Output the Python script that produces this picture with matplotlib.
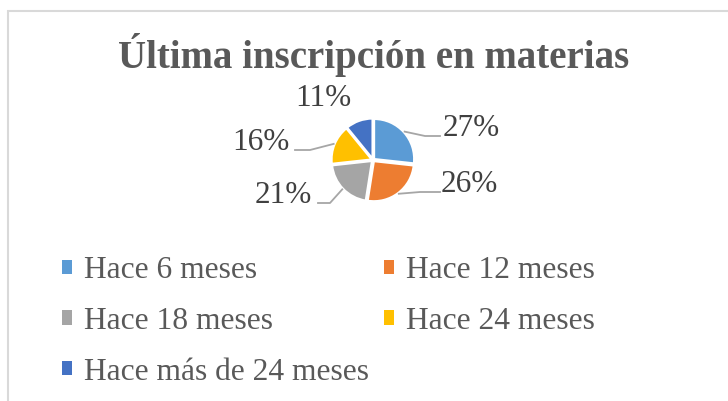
import numpy as np
import matplotlib.pyplot as plt
from matplotlib.patches import Patch

# datos
categorias = ['Hace 6 meses', 'Hace 12 meses', 'Hace 18 meses',
              'Hace 24 meses', 'Hace más de 24 meses']
porcentajes = [27, 26, 21, 16, 11]
colores = ['#5B9BD5', '#ED7D31', '#A5A5A5', '#FFC000', '#4472C4']
titulo = 'Última inscripción en materias'

W, H = 728, 401
plt.rcParams['font.family'] = ['Liberation Serif', 'DejaVu Serif']

fig = plt.figure(figsize=(W / 100, H / 100), dpi=100)
ax = fig.add_axes([0, 0, 1, 1])


def Y(y):
    # coordenadas de imagen -> datos (y hacia arriba)
    return H - y


cx, cy, r = 373, 160, 40
wedges, _ = ax.pie(porcentajes, colors=colores, startangle=90, counterclock=False,
                   radius=r, center=(cx, Y(cy)), explode=[1.5] * 5, frame=True,
                   wedgeprops=dict(edgecolor='white', linewidth=1.5))

ax.set_xlim(0, W)
ax.set_ylim(0, H)
ax.set_aspect('equal')
ax.axis('off')

# borde del área del gráfico
ax.plot([7, W], [Y(10.5), Y(10.5)], color='#D9D9D9', lw=1.5, solid_capstyle='butt')
ax.plot([7.5, 7.5], [Y(10), 0], color='#D9D9D9', lw=1.5, solid_capstyle='butt')

ax.text(374, Y(68), titulo, ha='center', va='baseline', fontsize=28,
        fontweight='bold', color='#595959')

# etiquetas: posición del texto (centro x, línea base) y guía (codo, fin)
lab_pos = [(471, 136), (469, 192), (283, 203), (261, 150), (323, 106)]
guias = [[(425, 136), (440, 136)],
         [(420, 192), (440, 192)],
         [(330, 203), (318, 203)],
         [(310, 150), (295, 150)],
         None]

for w, p, (tx, ty), g in zip(wedges, porcentajes, lab_pos, guias):
    ax.text(tx, Y(ty), f'{p}%', ha='center', va='baseline', fontsize=22.5,
            color='#404040')
    if g is None:
        continue
    ang = np.deg2rad((w.theta1 + w.theta2) / 2)
    x0 = cx + (r + 2.5) * np.cos(ang)
    y0 = Y(cy) + (r + 2.5) * np.sin(ang)
    xs = [x0] + [q[0] for q in g]
    ys = [y0] + [Y(q[1]) for q in g]
    ax.plot(xs, ys, color='#A6A6A6', lw=1.3)

orden = [0, 2, 4, 1, 3]
handles = [Patch(facecolor=colores[i], edgecolor='none') for i in orden]
labels = [categorias[i] for i in orden]
leg = ax.legend(handles, labels, ncol=2, loc='upper left',
                bbox_to_anchor=(62 / W, 1 - 256 / H), frameon=False,
                fontsize=22.7, handlelength=0.32, handleheight=0.32,
                handletextpad=0.38, columnspacing=0.48, labelspacing=0.69,
                borderpad=0, borderaxespad=0)
for t in leg.get_texts():
    t.set_color('#595959')

fig.savefig('out.png', dpi=100)
